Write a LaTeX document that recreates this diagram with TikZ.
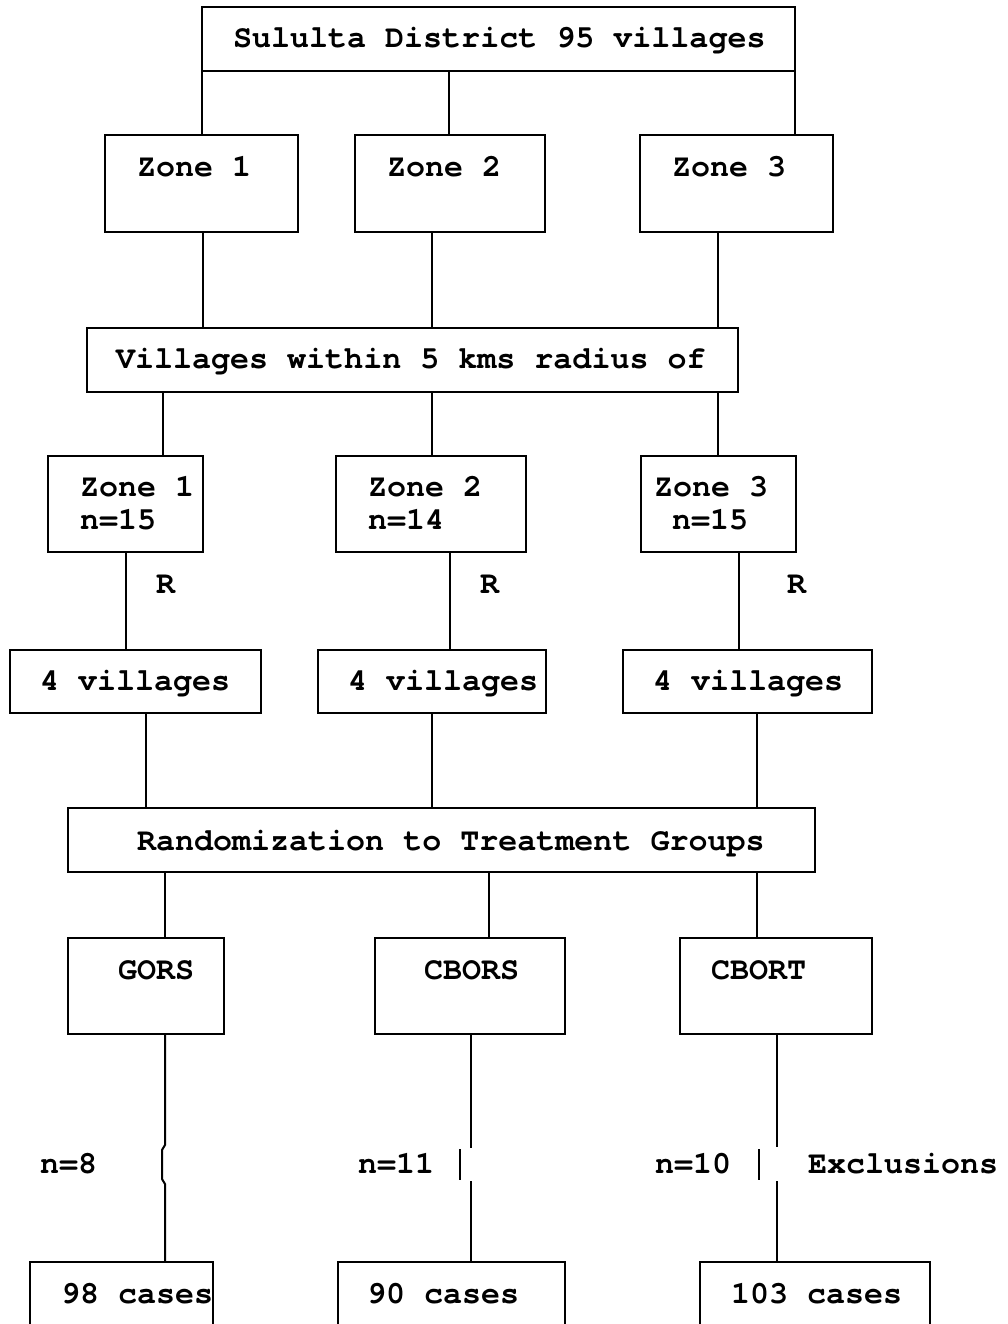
\documentclass[tikz,border=0pt]{standalone}
\usepackage{fontspec}
\setmainfont{TeX Gyre Cursor}
\newcommand{\mybox}[5]{\node[boxst, minimum width={(#4-#2)*1pt}, minimum height={(#5-#3)*1pt}] (#1) at ({(#2+#4)/2},{(#3+#5)/2}) {};}
\newcommand{\mytext}[4]{\node[txtst] (#1) at (#2,#3) {#4};}
\begin{document}
\begin{tikzpicture}[x=1pt,y=-1pt,
  boxst/.style={draw, rectangle, line width=2.2pt, inner sep=0pt, outer sep=0pt},
  txtst/.style={anchor=base west, inner sep=0pt, outer sep=0pt, font=\fontsize{31.7}{36}\selectfont\bfseries},
  conn/.style={line width=2pt}]
\useasboundingbox (0,0) rectangle (1007,1324);
\clip (0,0) rectangle (1007,1324);
% boxes
\mybox{top}{202}{7}{795}{71}
\mybox{za1}{105}{135}{298}{232}
\mybox{za2}{355}{135}{545}{232}
\mybox{za3}{640}{135}{833}{232}
\mybox{vil}{87}{328}{738}{392}
\mybox{zb1}{48}{456}{203}{552}
\mybox{zb2}{336}{456}{526}{552}
\mybox{zb3}{641}{456}{796}{552}
\mybox{va}{10}{650}{261}{713}
\mybox{vb}{318}{650}{546}{713}
\mybox{vc}{623}{650}{872}{713}
\mybox{rnd}{68}{808}{815}{872}
\mybox{ga}{68}{938}{224}{1034}
\mybox{gb}{375}{938}{565}{1034}
\mybox{gc}{680}{938}{872}{1034}
\mybox{ca}{30}{1262}{213}{1345}
\mybox{cb}{338}{1262}{565}{1345}
\mybox{cc}{700}{1262}{930}{1345}
% texts
\mytext{t0}{233}{48}{Sululta District 95 villages}
\mytext{t1}{137}{177}{Zone 1}
\mytext{t2}{387}{177}{Zone 2}
\mytext{t3}{672}{177}{Zone 3}
\mytext{t4}{116}{368}{Villages within 5 kms radius of}
\mytext{t5}{80}{496}{Zone 1}
\mytext{t6}{80}{529}{n=15}
\mytext{t7}{368}{496}{Zone 2}
\mytext{t8}{368}{529}{n=14}
\mytext{t9}{654}{496}{Zone 3}
\mytext{t10}{672}{529}{n=15}
\mytext{r1}{156}{593}{R}
\mytext{r2}{480}{593}{R}
\mytext{r3}{787}{593}{R}
\mytext{t11}{40}{690}{4 villages}
\mytext{t12}{348}{690}{4 villages}
\mytext{t13}{653}{690}{4 villages}
\mytext{t14}{137}{850}{Randomization to Treatment Groups}
\mytext{t15}{118}{979}{GORS}
\mytext{t16}{424}{979}{CBORS}
\mytext{t17}{711}{979}{CBORT}
\mytext{n1}{40}{1173}{n=8}
\mytext{n2}{358}{1173}{n=11}
\mytext{n3}{655}{1173}{n=10}
\mytext{ex}{808}{1173}{Exclusions}
\mytext{t18}{61}{1303}{98 cases}
\mytext{t19}{367}{1303}{90 cases}
\mytext{t20}{731}{1303}{103 cases}
% connectors
\draw[conn] (top.south -| 202,0) -- (za1.north -| 202,0);
\draw[conn] (top.south -| 449,0) -- (za2.north -| 449,0);
\draw[conn] (top.south -| 795,0) -- (za3.north -| 795,0);
\draw[conn] (za1.south -| 203,0) -- (vil.north -| 203,0);
\draw[conn] (za2.south -| 432,0) -- (vil.north -| 432,0);
\draw[conn] (za3.south -| 718,0) -- (vil.north -| 718,0);
\draw[conn] (vil.south -| 163,0) -- (zb1.north -| 163,0);
\draw[conn] (vil.south -| 432,0) -- (zb2.north -| 432,0);
\draw[conn] (vil.south -| 718,0) -- (zb3.north -| 718,0);
\draw[conn] (zb1.south -| 126,0) -- (va.north -| 126,0);
\draw[conn] (zb2.south -| 450,0) -- (vb.north -| 450,0);
\draw[conn] (zb3.south -| 739,0) -- (vc.north -| 739,0);
\draw[conn] (va.south -| 146,0) -- (rnd.north -| 146,0);
\draw[conn] (vb.south -| 432,0) -- (rnd.north -| 432,0);
\draw[conn] (vc.south -| 757,0) -- (rnd.north -| 757,0);
\draw[conn] (rnd.south -| 165,0) -- (ga.north -| 165,0);
\draw[conn] (rnd.south -| 489,0) -- (gb.north -| 489,0);
\draw[conn] (rnd.south -| 757,0) -- (gc.north -| 757,0);
% exclusion lines
\coordinate (ja1) at (165,1145);
\coordinate (ja2) at (162,1150);
\coordinate (ja3) at (162,1179);
\coordinate (ja4) at (165,1184);
\draw[conn] (ga.south -| 165,0) -- (ja1) -- (ja2) -- (ja3) -- (ja4) -- (ca.north -| 165,0);
\coordinate (jb1) at (471,1148);
\coordinate (jb2) at (460,1149);
\coordinate (jb3) at (460,1180);
\coordinate (jb4) at (471,1181);
\draw[conn] (gb.south -| 471,0) -- (jb1);
\draw[conn] (jb2) -- (jb3);
\draw[conn] (jb4) -- (cb.north -| 471,0);
\coordinate (jc1) at (777,1147);
\coordinate (jc2) at (759,1149);
\coordinate (jc3) at (759,1180);
\coordinate (jc4) at (777,1181);
\draw[conn] (gc.south -| 777,0) -- (jc1);
\draw[conn] (jc2) -- (jc3);
\draw[conn] (jc4) -- (cc.north -| 777,0);
\end{tikzpicture}
\end{document}
